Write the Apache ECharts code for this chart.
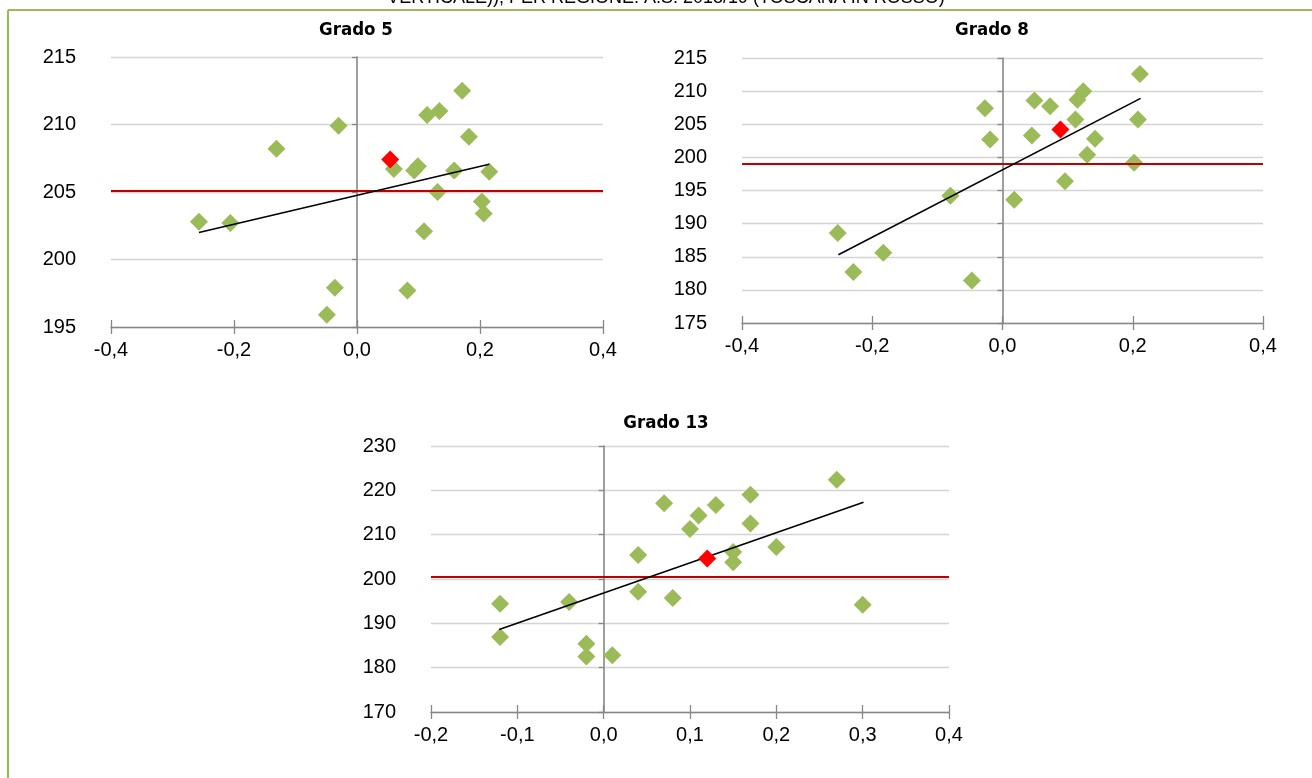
<!DOCTYPE html>
<html>
<head>
<meta charset="utf-8">
<script src="https://cdn.jsdelivr.net/npm/echarts@6/dist/echarts.min.js"></script>
<style>
  html, body { margin: 0; padding: 0; background: #ffffff; }
  #chart { width: 1312px; height: 778px; }
</style>
</head>
<body>
<div id="chart"></div>
<script>
// ---- Grado 5 ----
const grado5X = [-0.257, -0.206, -0.131, -0.030, -0.036, -0.049, 0.060, 0.093, 0.099, 0.114,
                 0.134, 0.171, 0.182, 0.158, 0.215, 0.131, 0.203, 0.206, 0.109, 0.082];
const grado5Y = [202.8, 202.7, 208.2, 209.9, 197.9, 195.9, 206.7, 206.6, 206.9, 210.7,
                 211.0, 212.5, 209.1, 206.6, 206.5, 205.0, 204.3, 203.4, 202.1, 197.7];
const toscana5 = [0.054, 207.4];
const italia5 = 205.1;
const trend5X = [-0.257, 0.215];
const trend5Y = [202.0, 207.05];

// ---- Grado 8 ----
const grado8X = [-0.253, -0.229, -0.183, -0.080, -0.047, -0.027, -0.019, 0.018, 0.045, 0.049,
                 0.073, 0.096, 0.112, 0.115, 0.124, 0.130, 0.142, 0.202, 0.208, 0.211];
const grado8Y = [188.6, 182.7, 185.6, 194.2, 181.4, 207.4, 202.7, 193.6, 203.3, 208.6,
                 207.7, 196.4, 205.7, 208.7, 210.0, 200.4, 202.8, 199.2, 205.7, 212.6];
const toscana8 = [0.089, 204.2];
const italia8 = 199.1;
const trend8X = [-0.252, 0.212];
const trend8Y = [185.3, 208.9];

// ---- Grado 13 ----
const grado13X = [-0.12, -0.12, -0.04, -0.02, -0.02, 0.01, 0.04, 0.04, 0.07, 0.08,
                  0.10, 0.11, 0.13, 0.15, 0.15, 0.17, 0.17, 0.20, 0.27, 0.30];
const grado13Y = [194.4, 186.9, 194.8, 185.4, 182.5, 182.8, 205.4, 197.1, 217.1, 195.7,
                  211.3, 214.3, 216.7, 206.1, 203.8, 219.0, 212.5, 207.2, 222.4, 194.2];
const toscana13 = [0.12, 204.6];
const italia13 = 200.6;
const trend13X = [-0.121, 0.301];
const trend13Y = [188.6, 217.3];

const titles = ['Grado 5', 'Grado 8', 'Grado 13'];
const header = 'VERTICALE)), PER REGIONE. A.S. 2018/19 (TOSCANA IN ROSSO)';

// axis scales per panel: [xMin, xMax, xStep, yMin, yMax, yStep]
const scales = [
  [-0.4, 0.4, 0.2, 195, 215, 5],
  [-0.4, 0.4, 0.2, 175, 215, 5],
  [-0.2, 0.4, 0.1, 170, 230, 10]
];

const panels = [
  { xs: grado5X, ys: grado5Y, tos: toscana5, avg: italia5, tx: trend5X, ty: trend5Y },
  { xs: grado8X, ys: grado8Y, tos: toscana8, avg: italia8, tx: trend8X, ty: trend8Y },
  { xs: grado13X, ys: grado13Y, tos: toscana13, avg: italia13, tx: trend13X, ty: trend13Y }
];

// layout boxes of the three plot areas
const grids = [
  { left: 111, top: 57, width: 492, height: 270 },
  { left: 742, top: 58, width: 521, height: 265 },
  { left: 431, top: 446, width: 518, height: 266 }
];
const titlePos = [[356, 30], [992, 30], [666, 423]];

const LABEL_FONT = '"Liberation Sans", Arial, sans-serif';
const TITLE_FONT = 'bold 18.5px "Liberation Sans Narrow", "DejaVu Sans Condensed", "Liberation Sans", sans-serif';
const axisGray = '#878787';
const fmtX = v => v.toFixed(1).replace('.', ',').replace('-0,0', '0,0');

const xAxes = [], yAxes = [], series = [];
panels.forEach((p, i) => {
  const [x0, x1, xs, y0, y1, ys] = scales[i];
  // main x axis: labels, line, outward ticks
  xAxes.push({
    gridIndex: i, type: 'value', min: x0, max: x1, interval: xs, position: 'bottom',
    axisLine: { show: true, onZero: false, lineStyle: { color: axisGray, width: 1.3 } },
    axisTick: { show: true, inside: false, length: 7, lineStyle: { color: axisGray, width: 1.3 } },
    axisLabel: { show: true, margin: 13, formatter: fmtX, color: '#000', fontSize: 20, fontFamily: LABEL_FONT },
    splitLine: { show: false }
  });
  // companion x axis: inward half of the crossing ticks
  xAxes.push({
    gridIndex: i, type: 'value', min: x0, max: x1, interval: xs, position: 'bottom',
    axisLine: { show: false, onZero: false },
    axisTick: { show: true, inside: true, length: 7, lineStyle: { color: axisGray, width: 1.3 } },
    axisLabel: { show: false }, splitLine: { show: false }
  });
  // value labels and horizontal gridlines on the left edge
  yAxes.push({
    gridIndex: i, type: 'value', min: y0, max: y1, interval: ys, position: 'left',
    axisLine: { show: false, onZero: false },
    axisTick: { show: false },
    axisLabel: { show: true, margin: 35, color: '#000', fontSize: 20, fontFamily: LABEL_FONT },
    splitLine: { show: true, lineStyle: { color: '#d4d4d4', width: 1.3 } }
  });
  // vertical axis line crossing at x = 0
  yAxes.push({
    gridIndex: i, type: 'value', min: y0, max: y1, interval: ys, position: 'left',
    axisLine: { show: true, onZero: true, onZeroAxisIndex: 2 * i, lineStyle: { color: axisGray, width: 1.6 } },
    axisTick: { show: true, inside: false, length: 5, lineStyle: { color: axisGray, width: 1.3 } },
    axisLabel: { show: false }, splitLine: { show: false }
  });

  series.push({
    type: 'scatter', xAxisIndex: 2 * i, yAxisIndex: 2 * i, z: 2,
    symbol: 'diamond', symbolSize: 18,
    itemStyle: { color: '#9bbb59', opacity: 1 },
    data: p.xs.map((x, k) => [x, p.ys[k]]),
    markLine: {
      silent: true, symbol: ['none', 'none'], z: 3,
      label: { show: false },
      lineStyle: { color: '#c00000', width: 2.2, type: 'solid' },
      data: [{ yAxis: p.avg }]
    }
  });
  series.push({
    type: 'line', xAxisIndex: 2 * i, yAxisIndex: 2 * i, z: 4,
    showSymbol: false, silent: true,
    lineStyle: { color: '#000000', width: 1.6 },
    data: p.tx.map((x, k) => [x, p.ty[k]])
  });
  series.push({
    type: 'scatter', xAxisIndex: 2 * i, yAxisIndex: 2 * i, z: 5,
    symbol: 'diamond', symbolSize: 18,
    itemStyle: { color: '#ff0000', opacity: 1 },
    data: [p.tos]
  });
});

const graphics = [
  // green frame along the top and left edges
  { type: 'line', shape: { x1: 8, y1: 10, x2: 1312, y2: 10 }, style: { stroke: '#9bbb59', lineWidth: 2.2 } },
  { type: 'line', shape: { x1: 8, y1: 10, x2: 8, y2: 778 }, style: { stroke: '#9bbb59', lineWidth: 2.2 } },
  { type: 'text', x: 666, y: 7, style: { text: header, textAlign: 'center', textVerticalAlign: 'bottom',
      font: '18px "Liberation Sans", Arial, sans-serif', fill: '#000' } }
];
titles.forEach((t, i) => {
  graphics.push({ type: 'text', x: titlePos[i][0], y: titlePos[i][1],
    style: { text: t, textAlign: 'center', textVerticalAlign: 'middle', font: TITLE_FONT, fill: '#000' } });
});

const chart = echarts.init(document.getElementById('chart'), null, { renderer: 'canvas' });
chart.setOption({
  backgroundColor: '#ffffff',
  animation: false,
  grid: grids.map(g => Object.assign({ containLabel: false }, g)),
  xAxis: xAxes,
  yAxis: yAxes,
  series: series,
  graphic: graphics
});
</script>
</body>
</html>
